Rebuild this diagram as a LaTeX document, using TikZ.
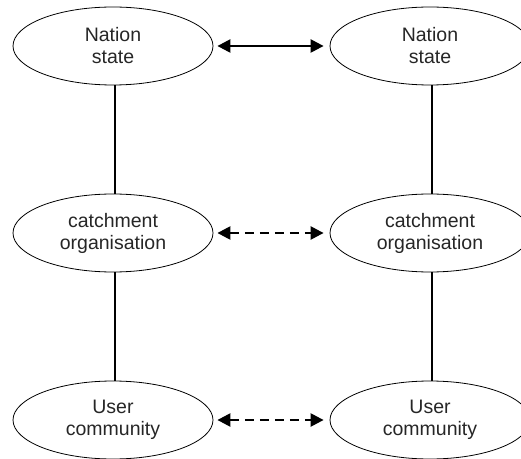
\documentclass[tikz,border=0pt]{standalone}
\usepackage{fontspec}
\setmainfont{Liberation Sans}
\usetikzlibrary{shapes.geometric,arrows.meta}
\begin{document}
\begin{tikzpicture}[x=1pt,y=1pt,
  actor/.style={draw=black, line width=0.8pt, ellipse, minimum width=200pt,
    minimum height=78pt, inner sep=0pt, align=center,
    font=\fontsize{19.5}{22}\selectfont, text=black!85},
  link/.style={line width=2.4pt},
  exchange/.style={line width=2.4pt, {Triangle[length=13pt,width=13pt]}-{Triangle[length=13pt,width=13pt]}},
  loose/.style={exchange, dash pattern=on 9pt off 6pt}]
  \useasboundingbox (0,0) rectangle (521,458);
  \clip (0,0) rectangle (521,458);
  % left column
  \node[actor] (nl) at (113,412) {Nation\\state};
  \node[actor] (cl) at (113,225) {catchment\\organisation};
  \node[actor] (ul) at (113,38)  {User\\community};
  % right column
  \node[actor] (nr) at (430,412) {Nation\\state};
  \node[actor] (cr) at (430,225) {catchment\\organisation};
  \node[actor] (ur) at (430,38)  {User\\community};
  % hierarchy inside each column
  \draw[link] ([xshift=2pt]nl.south) -- ([xshift=2pt]cl.north);
  \draw[link] ([xshift=2pt]cl.south) -- ([xshift=2pt]ul.north);
  \draw[link] ([xshift=2pt]nr.south) -- ([xshift=2pt]cr.north);
  \draw[link] ([xshift=2pt]cr.south) -- ([xshift=2pt]ur.north);
  % relations between the columns
  \draw[exchange] ([xshift=4pt]nl.east) -- ([xshift=-6pt]nr.west);
  \draw[loose] ([xshift=4pt]cl.east) -- ([xshift=-6pt]cr.west);
  \draw[loose] ([xshift=4pt]ul.east) -- ([xshift=-6pt]ur.west);
\end{tikzpicture}
\end{document}
